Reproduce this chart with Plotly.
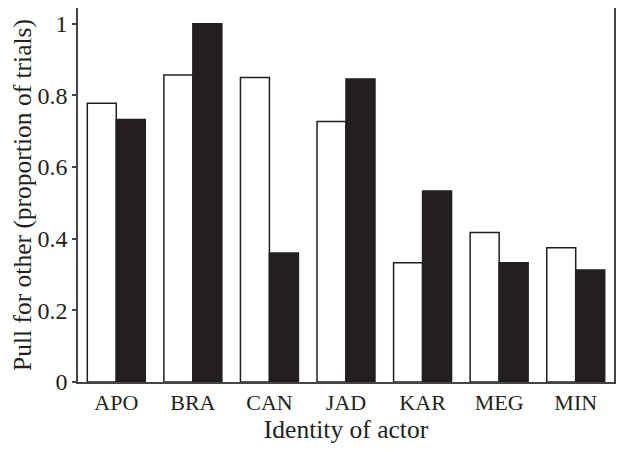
import plotly.graph_objects as go

actors = ["APO", "BRA", "CAN", "JAD", "KAR", "MEG", "MIN"]
open_vals = [0.778, 0.857, 0.850, 0.727, 0.333, 0.417, 0.375]
filled_vals = [0.733, 1.0, 0.36, 0.846, 0.533, 0.333, 0.3125]
y_ticks = [0, 0.2, 0.4, 0.6, 0.8, 1]

FONT = "Liberation Serif"
INK = "#231f20"

fig = go.Figure()
fig.add_trace(go.Bar(x=actors, y=open_vals, marker=dict(color="white", line=dict(color=INK, width=1.5)), name="open"))
fig.add_trace(go.Bar(x=actors, y=filled_vals, marker=dict(color=INK, line=dict(color=INK, width=1.5)), name="filled"))

# page body has an 8px margin; figure sized to fit the 624x452 window
fig.update_layout(
    width=616, height=444,
    margin=dict(l=70, r=10, t=0, b=70),
    plot_bgcolor="white", paper_bgcolor="white",
    barmode="group", bargap=0.243, bargroupgap=0,
    showlegend=False,
    font=dict(family=FONT, color=INK, size=22),
)
fig.update_xaxes(
    automargin=False,
    showline=True, linecolor="#444", linewidth=1.5, mirror=True,
    ticks="", showgrid=False,
    tickfont=dict(family=FONT, size=22, color=INK),
    title=dict(text="Identity of actor", font=dict(family=FONT, size=25.5, color=INK), standoff=6),
)
fig.update_yaxes(
    automargin=False,
    range=[0, 1.044], tickvals=y_ticks,
    showline=True, linecolor="#444", linewidth=1.5, mirror=True,
    ticks="outside", ticklen=4, tickcolor="#444", tickwidth=1.5,
    showgrid=False, zeroline=False,
    tickfont=dict(family=FONT, size=24, color=INK),
    title=dict(text="Pull for other (proportion of trials)", font=dict(family=FONT, size=25.5, color=INK), standoff=8),
)
fig.write_html("out.html")
